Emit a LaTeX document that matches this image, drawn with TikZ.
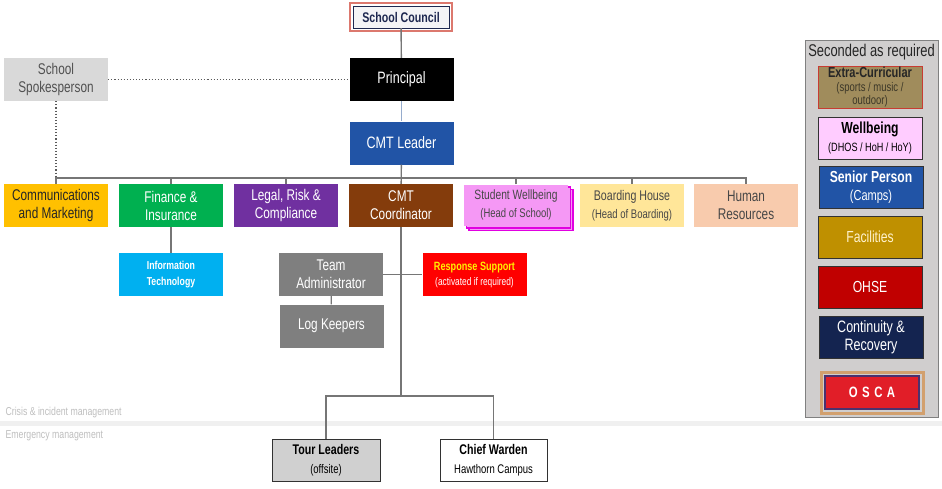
\documentclass[tikz,border=0pt]{standalone}
\usepackage{fontspec}
\setmainfont{Liberation Sans}[FakeStretch=0.76]
\usetikzlibrary{shadows}
\definecolor{linegrey}{RGB}{118,118,118}
\definecolor{paleblue}{RGB}{150,172,205}
\definecolor{dotgrey}{RGB}{90,90,90}
\definecolor{councilred}{RGB}{220,120,110}
\definecolor{councilnavy}{RGB}{30,40,80}
\definecolor{councilfill}{RGB}{244,244,246}
\definecolor{leaderblue}{RGB}{33,84,166}
\definecolor{spokegrey}{RGB}{217,217,217}
\definecolor{darktext}{RGB}{38,38,38}
\definecolor{commsorange}{RGB}{255,192,0}
\definecolor{financegreen}{RGB}{0,176,80}
\definecolor{legalpurple}{RGB}{112,48,160}
\definecolor{coordbrown}{RGB}{132,60,12}
\definecolor{wellpink}{RGB}{245,152,245}
\definecolor{wellmag}{RGB}{225,0,225}
\definecolor{boardyellow}{RGB}{255,230,153}
\definecolor{hrpeach}{RGB}{248,203,173}
\definecolor{itblue}{RGB}{0,176,240}
\definecolor{admingrey}{RGB}{127,127,127}
\definecolor{respred}{RGB}{255,0,0}
\definecolor{respyellow}{RGB}{255,240,0}
\definecolor{tourgrey}{RGB}{208,208,208}
\definecolor{boxedge}{RGB}{50,50,50}
\definecolor{bandgrey}{RGB}{240,240,240}
\definecolor{labelgrey}{RGB}{190,190,190}
\definecolor{panelgrey}{RGB}{208,206,206}
\definecolor{panelline}{RGB}{128,128,128}
\definecolor{extrakhaki}{RGB}{160,140,92}
\definecolor{extrared}{RGB}{200,60,50}
\definecolor{subgrey}{RGB}{60,55,40}
\definecolor{wellpale}{RGB}{255,204,255}
\definecolor{facilgold}{RGB}{191,144,0}
\definecolor{faciltext}{RGB}{255,242,204}
\definecolor{ohsered}{RGB}{192,0,0}
\definecolor{contnavy}{RGB}{20,36,80}
\definecolor{oscared}{RGB}{225,30,40}
\definecolor{oscanavy}{RGB}{75,50,110}
\definecolor{oscatan}{RGB}{210,160,110}
\newcommand{\fsz}[2]{\fontsize{#1}{#2}\selectfont}

\begin{document}
\begin{tikzpicture}[x=1pt,y=-1pt,
        box/.style={rectangle,minimum width=104pt,minimum height=43pt,
                    inner sep=1pt,align=center,font=\fsz{15.5}{18}},
        link/.style={draw=linegrey,line width=1.4pt},
        dots/.style={draw=dotgrey,line width=1.1pt,dotted},
        panelbox/.style={box,draw=boxedge,line width=0.8pt,minimum height=42pt,
                         font=\fsz{16}{18.5}},
        note/.style={anchor=west,text=labelgrey,font=\fsz{11.5}{13}}
      ]
        \useasboundingbox (0,0) rectangle (942,488);
        \fill[bandgrey] (0,421) rectangle (942,426);
        \node[note] (crisis) at (2,413) {Crisis \& incident management};
        \node[note] (emerg) at (2,436) {Emergency management};
        % top of the chart
        \node[box,draw=councilnavy,fill=councilfill,minimum width=96pt,
              minimum height=22pt,text=councilnavy,
              font=\bfseries\fsz{14}{16}] (council) at (401,17) {School Council};
        \draw[councilred,line width=1.5pt]
          ([shift={(-3,3)}]council.south west) rectangle
          ([shift={(3,-3)}]council.north east);
        \node[box,fill=black,text=white,font=\fsz{16.5}{19}] (principal)
          at (401.5,79.5) {Principal};
        \node[box,fill=leaderblue,text=white,font=\fsz{16.5}{19}] (leader)
          at (401.5,143) {CMT Leader};
        \node[box,fill=spokegrey,text=darktext!80] (spokes)
          at (56,79.5) {School\\Spokesperson};
        % team row
        \node[box,fill=commsorange,text=darktext] (comms)
          at (56,205.5) {Communications\\and Marketing};
        \node[box,fill=financegreen,text=white] (finance)
          at (171,205.5) {Finance \&\\Insurance};
        \node[box,fill=legalpurple,text=white] (legal)
          at (286,205.5) {Legal, Risk \&\\Compliance};
        \node[box,fill=coordbrown,text=white] (coord)
          at (401,205.5) {CMT\\Coordinator};
        \node[box,fill=wellpink,minimum height=41pt,text=darktext!85,
              double copy shadow={shadow xshift=2.5pt,shadow yshift=-2.5pt,
                                  fill=wellpink,draw=wellmag,line width=1.3pt}]
          (studwell) at (516,205) {{\fsz{13.5}{16}Student Wellbeing}\\
                                   {\fsz{12.5}{15}(Head of School)}};
        \node[box,fill=boardyellow,text=darktext!85] (boarding)
          at (632,205.5) {{\fsz{14}{16}Boarding House}\\
                          {\fsz{12.5}{15}(Head of Boarding)}};
        \node[box,fill=hrpeach,text=darktext!85] (hr)
          at (746,205.5) {Human\\Resources};
        % second level
        \node[box,fill=itblue,text=white,font=\bfseries\fsz{11.5}{15.5}] (it)
          at (171,274.5) {Information\\Technology};
        \node[box,fill=admingrey,text=white] (admin)
          at (331,274.5) {Team\\Administrator};
        \node[box,fill=respred,text=white,font=\fsz{11.5}{15}] (resp)
          at (474.5,274.5) {{\bfseries\fsz{12}{14}\color{respyellow}Response Support}\\
                            {\fsz{11}{13}(activated if required)}};
        \node[box,fill=admingrey,text=white] (logk)
          at (331.5,326) {Log Keepers};
        % emergency management
        \coordinate (split) at (401,396);
        \node[box,fill=tourgrey,draw=boxedge,line width=1pt,minimum width=108pt,
              minimum height=42pt,text=black,font=\fsz{13}{18.5}] (tour)
          at (326,460) {{\bfseries\fsz{14}{16}Tour Leaders}\\
                        {\fsz{12.5}{14}(offsite)}};
        \node[box,fill=white,draw=boxedge,line width=1pt,minimum width=107pt,
              minimum height=42pt,text=black,font=\fsz{13}{18.5}] (warden)
          at (493.5,460) {{\bfseries\fsz{14}{16}Chief Warden}\\
                          {\fsz{12.5}{14}Hawthorn Campus}};
        % connectors
        \coordinate (bus) at (401,178);
        \draw[link] (council) -- (principal);
        \draw[link,draw=paleblue] (principal) -- (leader);
        \draw[link] (leader) -- (coord);
        \draw[link] (comms.north) |- (bus) -| (hr.north);
        \foreach \n in {finance,legal,studwell,boarding}
          \draw[link] (\n.north) -- (\n.north |- bus);
        \draw[dots] (spokes) -- (principal);
        \draw[dots] (spokes.south) -- (spokes.south |- bus);
        \draw[link] (finance) -- (it);
        \draw[link] (admin) -- (resp);
        \draw[link] (admin) -- (logk);
        \draw[link] (coord) -- (split);
        \draw[link] (tour.north) |- (split) -| (warden.north);
        % seconded panel
        \node[draw=panelline,fill=panelgrey,line width=1pt,minimum width=133pt,
              minimum height=377pt,inner sep=0pt] (panel) at (871.5,228.5) {};
        \node[text=darktext,font=\fsz{17}{19}] (panelhead)
          at (871.5,52) {Seconded as required};
        \node[panelbox,fill=extrakhaki,draw=extrared,text=subgrey,
              font=\fsz{12}{13.5}] (extra)
          at (870,87.5) {{\bfseries\fsz{14.5}{16}\color{darktext}Extra-Curricular}\\
                         {\fsz{12.5}{14}(sports / music /}\\{\fsz{12.5}{14}outdoor)}};
        \node[panelbox,fill=wellpale,text=black] (wellb)
          at (870,138) {{\bfseries\fsz{16}{18}Wellbeing}\\
                        {\fsz{12}{14}(DHOS / HoH / HoY)}};
        \node[panelbox,fill=leaderblue,text=white] (senior)
          at (871,187) {{\bfseries Senior Person}\\{\fsz{14.5}{17}(Camps)}};
        \node[panelbox,fill=facilgold,text=faciltext] (facil)
          at (870,237) {Facilities};
        \node[panelbox,fill=ohsered,text=white] (ohse)
          at (870,287) {OHSE};
        \node[panelbox,fill=contnavy,text=white,font=\fsz{16.5}{18.5}] (cont)
          at (871,337) {Continuity \&\\Recovery};
        \node[box,fill=oscared,draw=oscanavy,line width=2pt,minimum width=94pt,
              minimum height=33pt,text=white,font=\bfseries\fsz{15}{17}] (osca)
          at (872,392.5) {O\hspace{4.5pt}S\hspace{4.5pt}C\hspace{4.5pt}A};
        \draw[oscatan,line width=3pt]
          ([shift={(-3,3)}]osca.south west) rectangle
          ([shift={(3,-3)}]osca.north east);
      \end{tikzpicture}
\end{document}
